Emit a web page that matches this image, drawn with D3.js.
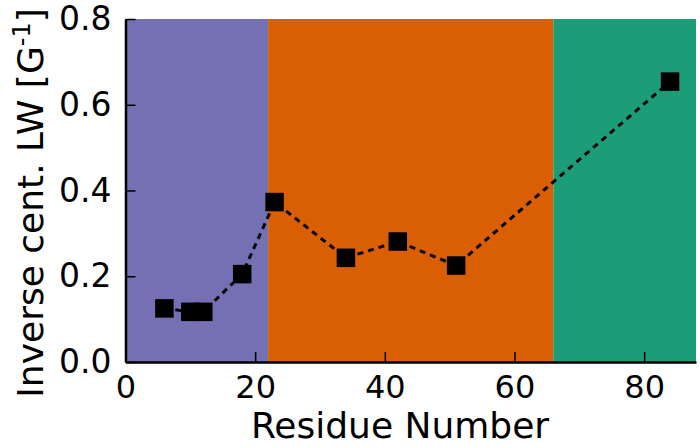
<!DOCTYPE html>
<html>
<head>
<meta charset="utf-8">
<script src="https://cdn.jsdelivr.net/npm/d3@7"></script>
<style>
  body { margin: 0; background: #fff; }
  text { font-family: 'DejaVu Sans', sans-serif; fill: #000; }
</style>
</head>
<body>
<svg class="lw-svg" width="700" height="447"></svg>
<script>
// residue numbers and inverse central linewidth values
const residues = [6, 10, 12, 18, 23, 34, 42, 51, 84]
const inverseLW = [0.125, 0.117, 0.117, 0.205, 0.373, 0.243, 0.281, 0.225, 0.654]

// shaded regions along the residue axis
const regionStarts = [0, 22, 66]
const regionEnds = [22, 66, 88]
const regionColors = ['#7570b3', '#d95f02', '#1b9e77']

const xTicks = [0, 20, 40, 60, 80]
const yTicks = [0.0, 0.2, 0.4, 0.6, 0.8]

const margin = { left: 125.5, right: 4, top: 19, bottom: 85 }
const width = 700
const height = 447

const svg = d3.select('.lw-svg')

const xScale = d3.scaleLinear().domain([0, 88]).range([margin.left, width - margin.right])
const yScale = d3.scaleLinear().domain([0, 0.8]).range([height - margin.bottom, margin.top])

// background regions
const regions = regionStarts.map((s, i) => ({ start: s, end: regionEnds[i], color: regionColors[i] }))
svg.selectAll('.region')
  .data(regions)
  .enter()
  .append('rect')
  .attr('class', 'region')
  .attr('x', d => xScale(d.start))
  .attr('y', yScale(0.8))
  .attr('width', d => xScale(d.end) - xScale(d.start))
  .attr('height', yScale(0) - yScale(0.8))
  .attr('fill', d => d.color)

const points = residues.map((r, i) => ({ x: r, y: inverseLW[i] }))

// dashed connecting line
const line = d3.line().x(d => xScale(d.x)).y(d => yScale(d.y))
svg.append('path')
  .datum(points)
  .attr('d', line)
  .attr('fill', 'none')
  .attr('stroke', '#000')
  .attr('stroke-width', 3)
  .attr('stroke-dasharray', '6,5')

// square markers
const size = 18.5
svg.selectAll('.marker')
  .data(points)
  .enter()
  .append('rect')
  .attr('class', 'marker')
  .attr('x', d => xScale(d.x) - size / 2)
  .attr('y', d => yScale(d.y) - size / 2)
  .attr('width', size)
  .attr('height', size)
  .attr('fill', '#000')

// axes with inward ticks
const xAxis = svg.append('g')
  .attr('class', 'x axis')
  .attr('transform', `translate(0,${yScale(0)})`)
  .call(d3.axisBottom(xScale).tickValues(xTicks).tickSizeInner(-10).tickSizeOuter(0).tickPadding(13).tickFormat(d3.format('d')))
xAxis.select('.domain').attr('stroke-width', 2.5)
xAxis.selectAll('.tick line').attr('stroke-width', 1.5)
xAxis.selectAll('text').style('font-size', '32px').attr('fill', '#000')

const yAxis = svg.append('g')
  .attr('class', 'y axis')
  .attr('transform', `translate(${xScale(0)},0)`)
  .call(d3.axisLeft(yScale).tickValues(yTicks).tickSizeInner(-10).tickSizeOuter(0).tickPadding(14).tickFormat(d3.format('.1f')))
yAxis.select('.domain').attr('stroke-width', 2.5)
yAxis.selectAll('.tick line').attr('stroke-width', 1.5)
yAxis.selectAll('text').style('font-size', '33px').attr('fill', '#000')

// axis titles
svg.append('text')
  .attr('x', 400)
  .attr('y', 438)
  .attr('text-anchor', 'middle')
  .style('font-size', '36px')
  .text('Residue Number')

const yTitle = svg.append('text')
  .attr('transform', 'translate(43,203) rotate(-90)')
  .attr('text-anchor', 'middle')
  .style('font-size', '36px')
yTitle.append('tspan').text('Inverse cent. LW [G')
yTitle.append('tspan').attr('dy', -13).style('font-size', '24px').text('-1')
yTitle.append('tspan').attr('dy', 13).text(']')
</script>
</body>
</html>
